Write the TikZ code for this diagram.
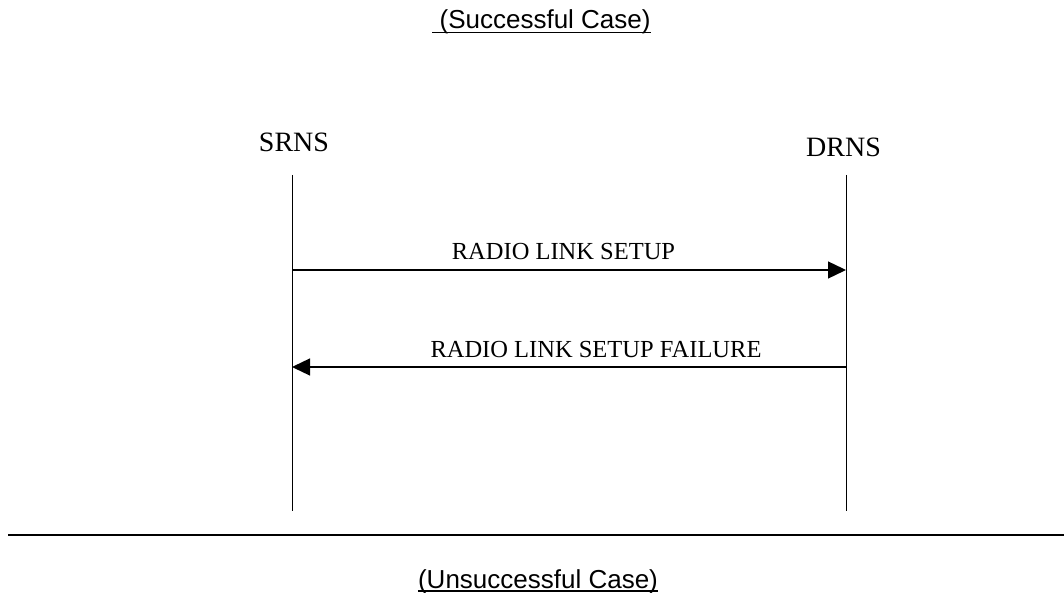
\documentclass[tikz,border=0pt]{standalone}
\usepackage{fontspec}
\setmainfont{Liberation Serif}
\newfontfamily\arialfont{Liberation Sans}
\usetikzlibrary{arrows.meta}
\begin{document}
\begin{tikzpicture}[x=1pt,y=-1pt,
  casetitle/.style={font=\arialfont\fontsize{26}{30}\selectfont, inner sep=0pt, anchor=base},
  entity/.style={font=\fontsize{28}{32}\selectfont, inner sep=0pt, anchor=base},
  msglabel/.style={font=\fontsize{24.5}{28}\selectfont, inner sep=0pt, anchor=base},
  lifeline/.style={line width=1pt},
  msg/.style={line width=1.3pt, -{Triangle[length=18pt,width=17pt]}},
  uline/.style={line width=1.8pt},
  divider/.style={line width=2.4pt}]
\useasboundingbox (0,0) rectangle (1064,593);
% titles
\node[casetitle] (t1) at (541.5,29) {\ (Successful Case)};
\draw[uline] ([yshift=-3.5pt]t1.base west) -- ([yshift=-3.5pt]t1.base east);
\node[casetitle] (t2) at (538,588) {(Unsuccessful Case)};
\draw[uline] ([yshift=-3pt]t2.base west) -- ([yshift=-3pt]t2.base east);
% entities
\node[entity] (srns) at (294,152) {SRNS};
\node[entity] (drns) at (843.5,157) {DRNS};
% lifelines
\coordinate (sTop) at (292,175);
\coordinate (sBot) at (292,511);
\coordinate (dTop) at (846,175);
\coordinate (dBot) at (846,511);
\draw[lifeline] (sTop) -- (sBot);
\draw[lifeline] (dTop) -- (dBot);
% messages
\coordinate (m1s) at (292,270);
\coordinate (m1d) at (846,270);
\coordinate (m2s) at (292,367);
\coordinate (m2d) at (846,367);
\draw[msg] (m1s) -- (m1d);
\node[msglabel] (l1) at (563.5,260) {RADIO LINK SETUP};
\draw[msg] (m2d) -- (m2s);
\node[msglabel] (l2) at (596,357) {RADIO LINK SETUP FAILURE};
% divider
\coordinate (divL) at (8,535);
\coordinate (divR) at (1064,535);
\draw[divider] (divL) -- (divR);
\end{tikzpicture}
\end{document}
